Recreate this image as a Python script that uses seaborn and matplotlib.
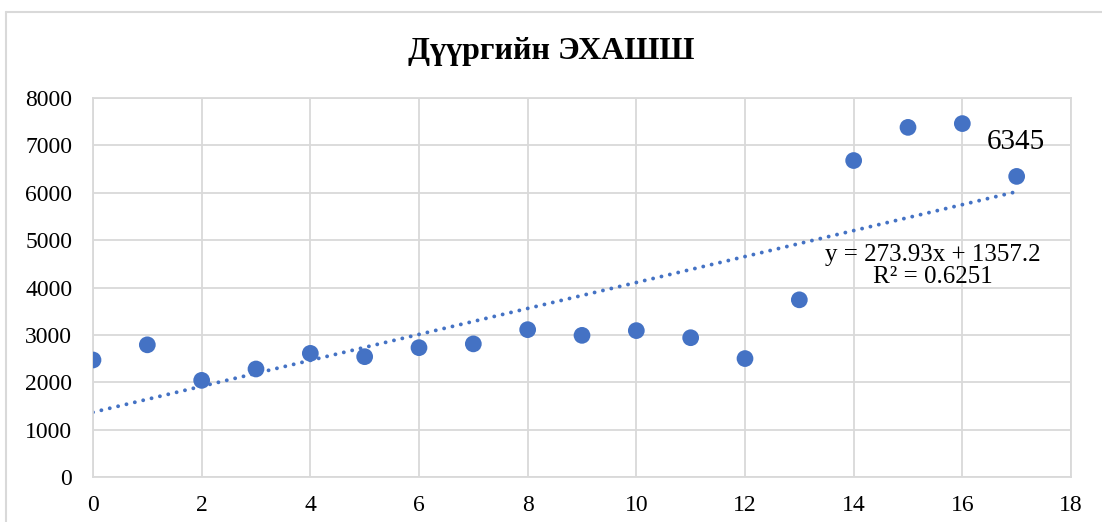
import numpy as np
import pandas as pd
import matplotlib
matplotlib.use("Agg")
import matplotlib.pyplot as plt
from matplotlib.lines import Line2D
import seaborn as sns

years = list(range(18))
values = [2470, 2790, 2040, 2280, 2610, 2540, 2730, 2810, 3110, 2990, 3090, 2940, 2500, 3740, 6680, 7380, 7460, 6345]
title = "Дүүргийн ЭХАШШ"
eq_text = "y = 273.93x + 1357.2\nR² = 0.6251"
last_label = "6345"
xticks = list(range(0, 19, 2))
yticks = list(range(0, 8001, 1000))

df = pd.DataFrame({"x": years, "y": values})

sns.set_theme(style="white")
plt.rcParams["font.family"] = ["Liberation Serif", "DejaVu Serif"]

color = "#4472C4"
grid_c = "#d9d9d9"

fig = plt.figure(figsize=(11.02, 5.22), dpi=100)
ax = fig.add_axes([93/1102, 1-477/522, (1071-93)/1102, (477-98)/522])

sns.regplot(data=df, x="x", y="y", scatter=False, ci=None, ax=ax,
            line_kws=dict(color=color, lw=2.8, linestyle=(0, (0.01, 2.2)),
                          dash_capstyle="round"))
sns.scatterplot(data=df, x="x", y="y", ax=ax, color=color, s=145,
                edgecolor="none", zorder=3)

ax.set_xlim(0, 18)
ax.set_ylim(0, 8000)
ax.set_xticks(xticks)
ax.set_yticks(yticks)
ax.set_xlabel("")
ax.set_ylabel("")
ax.grid(True, color=grid_c, lw=1.3)
ax.set_axisbelow(True)
for s in ax.spines.values():
    s.set_color(grid_c)
    s.set_linewidth(1.3)
ax.tick_params(axis="both", length=0, labelsize=17, colors="black")
ax.tick_params(axis="x", pad=13)
ax.tick_params(axis="y", pad=15)

ax.text(15.45, 4460, eq_text, ha="center", va="center", fontsize=18,
        linespacing=1.0, color="black")
ax.text(16.99, 7070, last_label, ha="center", va="center", fontsize=21, color="black")

fig.text(0.5, 1-51/522, title, ha="center", va="center", fontsize=23,
         fontweight="bold", color="black")

fig.add_artist(Line2D([6/1102, 1.0], [1-12/522, 1-12/522], transform=fig.transFigure,
                      color="#d9d9d9", lw=1.5))
fig.add_artist(Line2D([6/1102, 6/1102], [0, 1-12/522], transform=fig.transFigure,
                      color="#d9d9d9", lw=1.5))

fig.savefig("out.png", dpi=100)
